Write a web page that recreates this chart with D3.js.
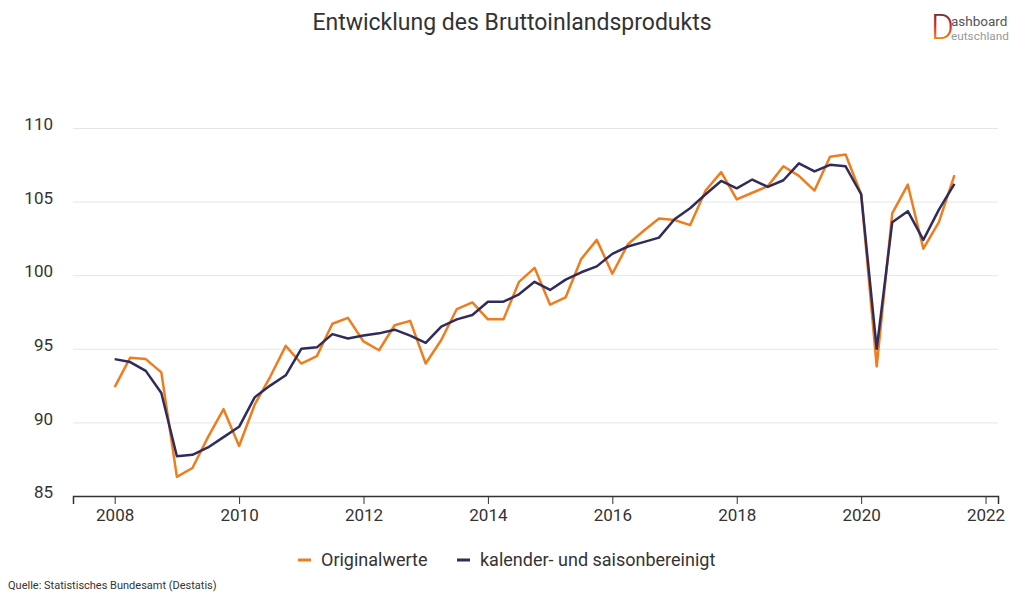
<!DOCTYPE html>
<html>
<head>
<meta charset="utf-8">
<script src="https://cdn.jsdelivr.net/npm/d3@7"></script>
<style>
  body { margin: 0; background: #fff; }
  svg { display: block; font-family: Roboto, "Noto Sans", sans-serif; }
</style>
</head>
<body>
<svg id="chart" width="1024" height="602"></svg>
<script>
// quarterly values, 2008 Q1 .. 2021 Q3
var startYear = 2008;
var original = [
  92.4, 94.4, 94.3, 93.4,
  86.3, 86.9, 89.0, 90.9,
  88.4, 91.2, 93.1, 95.2,
  94.0, 94.5, 96.7, 97.1,
  95.5, 94.9, 96.6, 96.9,
  94.0, 95.6, 97.7, 98.15,
  97.0, 97.0, 99.55, 100.5,
  98.0, 98.5, 101.1, 102.4,
  100.1, 102.1, 103.0, 103.85,
  103.75, 103.4, 105.75, 107.0,
  105.15, 105.6, 106.05, 107.4,
  106.75, 105.75, 108.05, 108.2,
  105.5, 93.8, 104.2, 106.15,
  101.8, 103.6, 106.8
];
var adjusted = [
  94.3, 94.1, 93.5, 92.0,
  87.7, 87.8, 88.3, 89.0,
  89.7, 91.7, 92.5, 93.2,
  95.0, 95.1, 96.0, 95.7,
  95.9, 96.05, 96.3, 95.9,
  95.4, 96.5, 97.0, 97.3,
  98.2, 98.2, 98.7, 99.55,
  99.0, 99.7, 100.2, 100.6,
  101.45, 101.95, 102.25, 102.55,
  103.8, 104.55, 105.5, 106.4,
  105.9, 106.5, 106.0, 106.45,
  107.6, 107.05, 107.5, 107.4,
  105.5, 95.0, 103.6, 104.35,
  102.4, 104.45, 106.2
];
var seriesNames = ["Originalwerte", "kalender- und saisonbereinigt"];
var seriesColors = ["#f07d1d", "#2f2c5c"];
var yTicks = [85, 90, 95, 100, 105, 110];
var xTicks = [2008, 2010, 2012, 2014, 2016, 2018, 2020, 2022];

var margin = { top: 128, right: 26, bottom: 106, left: 73 },
    width = 1024 - margin.left - margin.right,
    height = 602 - margin.top - margin.bottom;

var svg = d3.select("#chart");

// title
svg.append("text")
  .attr("x", 512).attr("y", 30)
  .attr("text-anchor", "middle")
  .attr("font-size", 23)
  .attr("fill", "#333")
  .text("Entwicklung des Bruttoinlandsprodukts");

// logo
var grad = svg.append("defs").append("linearGradient")
  .attr("id", "flag").attr("x1", 0).attr("y1", 0).attr("x2", 0).attr("y2", 1);
grad.append("stop").attr("offset", "0%").attr("stop-color", "#333");
grad.append("stop").attr("offset", "45%").attr("stop-color", "#d8262b");
grad.append("stop").attr("offset", "100%").attr("stop-color", "#f5c400");
svg.append("text")
  .attr("x", 931).attr("y", 39)
  .attr("font-size", 35)
  .attr("font-weight", 300)
  .attr("fill", "url(#flag)")
  .text("D");
svg.append("text")
  .attr("x", 951).attr("y", 26)
  .attr("font-size", 13.5)
  .attr("fill", "#555")
  .text("ashboard");
svg.append("text")
  .attr("x", 951).attr("y", 39.5)
  .attr("font-size", 11.8)
  .attr("fill", "#999")
  .text("eutschland");

var g = svg.append("g").attr("transform", `translate(${margin.left},${margin.top})`);

var x = d3.scaleLinear().domain([2007.33, 2022.2]).range([0, width]);
var y = d3.scaleLinear().domain([85, 110]).range([height, 0]);

// y grid + labels
var yAxis = d3.axisLeft(y).tickValues(yTicks).tickSize(-width).tickFormat(d3.format("d"));
var yg = g.append("g").call(yAxis);
yg.select(".domain").remove();
yg.selectAll("line").attr("stroke", "#e6e6e6");
yg.selectAll("text")
  .attr("x", -20)
  .attr("dy", "0.1em")
  .attr("fill", "#333")
  .attr("font-size", 17)
  .attr("font-family", "Roboto, sans-serif");

// x axis
var xAxis = d3.axisBottom(x).tickValues(xTicks).tickSize(8).tickFormat(d3.format("d"));
var xg = g.append("g").attr("transform", `translate(0,${height})`).call(xAxis);
xg.select(".domain").attr("stroke", "#333").attr("stroke-width", 1.5);
xg.selectAll("line").attr("stroke", "#333");
xg.selectAll("text")
  .attr("y", 13)
  .attr("fill", "#333")
  .attr("font-size", 17)
  .attr("font-family", "Roboto, sans-serif");

// lines
var line = d3.line()
  .x((d, i) => x(startYear + i / 4))
  .y(d => y(d));

[original, adjusted].forEach(function(s, k) {
  g.append("path")
    .datum(s)
    .attr("fill", "none")
    .attr("stroke", seriesColors[k])
    .attr("stroke-width", 2.5)
    .attr("stroke-linejoin", "round")
    .attr("d", line);
});

// legend
var legendX = [298, 457];
seriesNames.forEach(function(name, k) {
  var lg = svg.append("g").attr("transform", `translate(${legendX[k]},560)`);
  lg.append("line")
    .attr("x1", 0).attr("x2", 13)
    .attr("stroke", seriesColors[k])
    .attr("stroke-width", 3);
  lg.append("text")
    .attr("x", 23).attr("y", 6)
    .attr("font-size", 18)
    .attr("fill", "#333")
    .text(name);
});

// source
svg.append("text")
  .attr("x", 8).attr("y", 589)
  .attr("font-size", 11)
  .attr("fill", "#333")
  .text("Quelle: Statistisches Bundesamt (Destatis)");
</script>
</body>
</html>
